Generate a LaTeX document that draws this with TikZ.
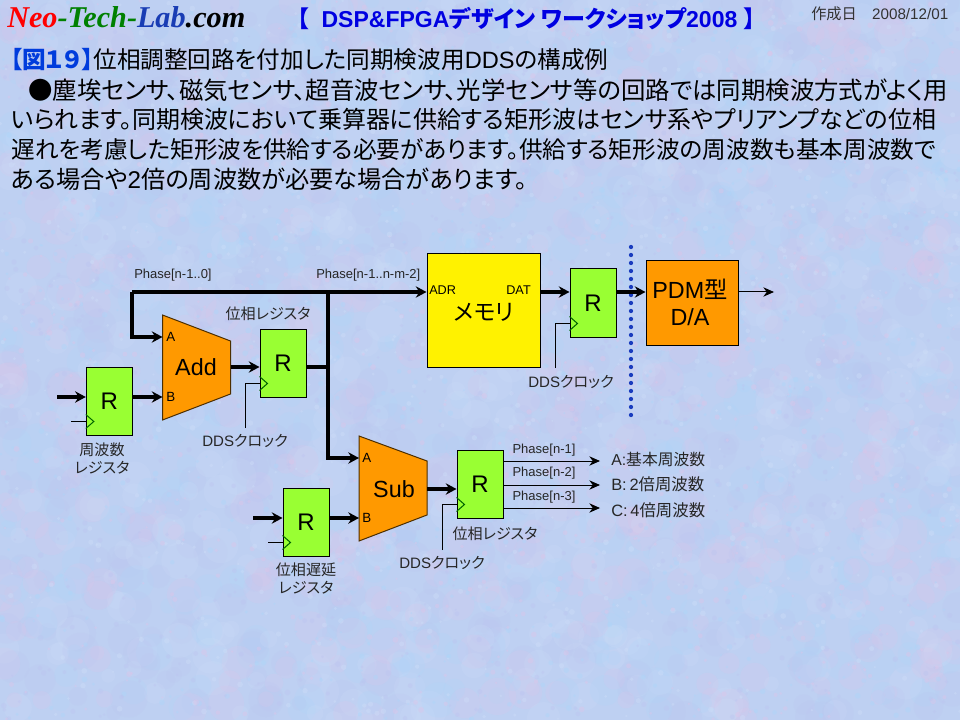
\documentclass[tikz,border=0pt]{standalone}
\usepackage{fontspec}
\usepackage{graphicx}
\usetikzlibrary{arrows.meta}
\setmainfont{Liberation Sans}
\newfontfamily\jp[RawFeature=+palt]{Noto Sans CJK JP}
\newfontfamily\neoserif{Liberation Serif}
\newlength\unitpx \setlength\unitpx{.75pt}
\newcommand\fitw[2]{\resizebox{#1\unitpx}{!}{#2}}
\definecolor{bgbase}{RGB}{190,208,242}
\definecolor{blob0}{RGB}{222,196,232}
\definecolor{blob1}{RGB}{172,214,250}
\definecolor{blob2}{RGB}{188,196,240}
\definecolor{blob3}{RGB}{206,222,248}
\definecolor{orangeblk}{RGB}{255,153,0}
\definecolor{greenreg}{RGB}{153,255,51}
\definecolor{titleblue}{RGB}{0,0,225}
\definecolor{figblue}{RGB}{0,60,220}
\definecolor{dotblue}{RGB}{25,60,190}
\definecolor{clkgreen}{RGB}{0,100,0}
\definecolor{neogreen}{RGB}{0,128,0}
\definecolor{neoblue}{RGB}{25,60,180}
\tikzset{
  x=.75pt,y=-.75pt,
  regbox/.style={draw=black,line width=.75pt,fill=greenreg,minimum width=34.5pt,minimum height=51pt,inner sep=0pt,font=\fontsize{18}{18}\selectfont},
  blockshape/.style={draw=black!70!orangeblk,line width=.75pt,fill=orangeblk},
  bigtxt/.style={inner sep=0pt,font=\fontsize{17.5}{19}\selectfont},
  lbl/.style={inner sep=0pt,font=\fontsize{11.3}{13.5}\selectfont,text=black!85},
  phase/.style={inner sep=0pt,font=\fontsize{9.75}{11}\selectfont,text=black!85},
  port/.style={inner sep=0pt,font=\fontsize{10}{12}\selectfont},
  para/.style={inner sep=0pt,anchor=base west,font=\fontsize{17}{20}\selectfont},
  bus/.style={line width=2.6pt,draw=black},
  busa/.style={bus,-{Stealth[length=8pt,width=8.5pt]}},
  thin line/.style={line width=.75pt,draw=black},
  thina/.style={thin line,-{Stealth[length=8pt,width=7pt]}},
  clk/.style={line width=.75pt,draw=clkgreen},
}
\begin{document}
\begin{tikzpicture}
\useasboundingbox (0,0) rectangle (960,720);
% textured background
\begin{scope}
\clip (0,0) rectangle (960,720);
\fill[bgbase] (0,0) rectangle (960,720);
\pgfmathsetseed{19}
\foreach \i in {1,...,1800}{
  \pgfmathsetmacro\px{rnd*960}
  \pgfmathsetmacro\py{rnd*720}
  \pgfmathsetmacro\rr{5+rnd*9}
  \pgfmathtruncatemacro\kk{int(rnd*4)}
  \fill[blob\kk,opacity=.2] (\px,\py) circle (\rr pt);
}
\foreach \i in {1,...,3000}{
  \pgfmathsetmacro\px{rnd*960}
  \pgfmathsetmacro\py{rnd*720}
  \pgfmathsetmacro\rr{.8+rnd*1.4}
  \pgfmathtruncatemacro\kk{int(rnd*4)}
  \fill[blob\kk,opacity=.4] (\px,\py) circle (\rr pt);
}
\end{scope}

% header
\node[inner sep=0pt,anchor=base west] (neo) at (7,28) {\fitw{238}{\neoserif\fontsize{24}{24}\selectfont\bfseries\itshape\textcolor{red}{Neo}\textcolor{neogreen}{-Tech-}\textcolor{neoblue}{Lab}\textcolor{black}{.com}}};
\node[inner sep=0pt,anchor=base west,text=titleblue] (ttl) at (297,28) {\fitw{458}{\fontsize{15}{15}\selectfont\bfseries{\jp 【}\ \ DSP\&FPGA{\jp デザイン ワークショップ}2008\ {\jp 】}}};
\node[inner sep=0pt,anchor=base west,text=black!80] (date) at (811,20) {\fitw{137}{\fontsize{10}{10}\selectfont{\jp 作成日}\quad 2008/12/01}};

% paragraph
\node[para] (figt) at (10,69) {\fitw{598}{\textcolor{figblue}{\jp\bfseries 【図１９】}{\jp 位相調整回路を付加した同期検波用}DDS{\jp の構成例}}};
\node[para] (p1) at (28,100) {\fitw{920}{\jp ●塵埃センサ、磁気センサ、超音波センサ、光学センサ等の回路では同期検波方式がよく用}};
\node[para] (p2) at (11,129) {\fitw{925}{\jp いられます。同期検波において乗算器に供給する矩形波はセンサ系やプリアンプなどの位相}};
\node[para] (p3) at (11,159) {\fitw{925}{\jp 遅れを考慮した矩形波を供給する必要があります。供給する矩形波の周波数も基本周波数で}};
\node[para] (p4) at (11,189) {\fitw{516}{{\jp ある場合や}2{\jp 倍の周波数が必要な場合があります。}}};

% named junctions
\coordinate (tl) at (132,292);
\coordinate (tj) at (328,292);
\coordinate (j) at (328,367);
\coordinate (addTL) at (162.5,315);
\coordinate (addBL) at (162.5,420);
\coordinate (addTR) at (230.5,341);
\coordinate (addBR) at (230.5,394);
\coordinate (addA) at (162.5,337);
\coordinate (addB) at (162.5,397);
\coordinate (addE) at (230.5,367);
\coordinate (subTL) at (359,436);
\coordinate (subBL) at (359,541);
\coordinate (subTR) at (427,461);
\coordinate (subBR) at (427,515);
\coordinate (subA) at (359,458);
\coordinate (subB) at (359,518);
\coordinate (subE) at (427,489);
\coordinate (row) at (540,292);
\coordinate (outP) at (774,292);
\coordinate (outA) at (600,461);
\coordinate (outB) at (600,485);
\coordinate (outC) at (600,508);
\coordinate (in1) at (57,397);
\coordinate (in4) at (253,518);
\coordinate (ck1in) at (71,421);
\coordinate (ck4in) at (268,542);
\coordinate (s2) at (245,428);
\coordinate (s3) at (555,368);
\coordinate (s5) at (442,550);
\coordinate (dotA) at (631,247);
\coordinate (dotB) at (631,415);

% blocks
\node[regbox] (r1) at (109.3,401) {R};
\node[regbox] (r2) at (283,363) {R};
\node[regbox] (r3) at (593,303) {R};
\node[regbox] (r4) at (306,522) {R};
\node[regbox] (r5) at (480,484) {R};
\draw[blockshape] (addTL) -- (addTR) -- (addBR) -- (addBL) -- cycle;
\draw[blockshape] (subTL) -- (subTR) -- (subBR) -- (subBL) -- cycle;
\node[bigtxt] (addL) at (196,367) {Add};
\node[bigtxt] (subL) at (394,489) {Sub};
\node[port,anchor=west] (aA) at (166,337) {A};
\node[port,anchor=west] (aB) at (166,397) {B};
\node[port,anchor=west] (sA) at (362,458) {A};
\node[port,anchor=west] (sB) at (362,518) {B};
\node[draw=black,line width=.75pt,fill=yellow,minimum width=84.75pt,minimum height=84.75pt,inner sep=0pt] (mem) at (483.5,310.5) {};
\node[inner sep=0pt,font=\fontsize{17}{17}\selectfont] (memL) at (484,312) {\jp メモリ};
\node[port,anchor=west,font=\fontsize{9.5}{11}\selectfont] (adr) at (429,290) {ADR};
\node[port,anchor=east,font=\fontsize{9.5}{11}\selectfont] (dat) at (531,290) {DAT};
\node[draw=black,line width=.75pt,fill=orangeblk,minimum width=69pt,minimum height=63pt,inner sep=0pt] (pdm) at (692,303) {};
\node[inner sep=0pt,font=\fontsize{17.5}{19}\selectfont] (pdmA) at (690,289) {PDM{\jp 型}};
\node[inner sep=0pt,font=\fontsize{17.5}{19}\selectfont] (pdmB) at (690,317) {D/A};

% dotted divider
\draw[dotblue,line width=3.2pt,line cap=round,dash pattern=on 0pt off 6pt] (dotA) -- (dotB);

% clock triangles and stubs
\foreach \n in {r1,r2,r3,r4,r5}{
  \coordinate (\n ck) at ([yshift=10.5pt]\n.south west);
  \draw[clk] ([yshift=5.25pt]\n.south west) -- ([xshift=6pt]\n ck) -- ([yshift=15.75pt]\n.south west);
}
\draw[thin line] (ck1in) -- (ck1in -| r1.west);
\draw[thin line] (ck4in) -- (ck4in -| r4.west);
\draw[thin line] (s2) |- (r2ck);
\draw[thin line] (s3) |- (r3ck);
\draw[thin line] (s5) |- (r5ck);

% thick connectors
\draw[busa] (in1) -- (in1 -| r1.west);
\draw[busa] (r1.east |- addB) -- (addB);
\draw[busa] (addE) -- (addE -| r2.west);
\draw[bus] (r2.east |- j) -- (j);
\draw[bus] (tl) -- (tj);
\draw[busa,line join=miter] (tl) |- (addA);
\draw[busa] (tj) -- (tj -| mem.west);
\draw[busa,line join=miter] (tj) |- (subA);
\draw[busa] (in4) -- (in4 -| r4.west);
\draw[busa] (r4.east |- subB) -- (subB);
\draw[busa] (subE) -- (subE -| r5.west);
\draw[busa] (row) -- (r3.west |- row);
\draw[busa] (r3.east |- row) -- (pdm.west |- row);
\draw[thina] (pdm.east |- row) -- (outP);
\draw[thina] (r5.east |- outA) -- (outA);
\draw[thina] (r5.east |- outB) -- (outB);
\draw[thina] (r5.east |- outC) -- (outC);

% labels
\node[phase,anchor=west] (ph0) at (134,275) {Phase[n-1..0]};
\node[phase,anchor=west] (ph1) at (316,275) {Phase[n-1..n-m-2]};
\node[lbl] (reg2) at (268,314) {\jp 位相レジスタ};
\node[lbl] (dds2) at (245,441) {DDS{\jp クロック}};
\node[lbl,align=center] (reg1) at (102,458) {\jp 周波数\\\jp レジスタ};
\node[lbl] (dds3) at (571,382) {DDS{\jp クロック}};
\node[lbl] (dds5) at (442,563) {DDS{\jp クロック}};
\node[lbl] (reg5) at (495,534) {\jp 位相レジスタ};
\node[lbl,align=center] (reg4) at (306,578) {\jp 位相遅延\\\jp レジスタ};
\node[phase] (pa) at (544,450) {Phase[n-1]};
\node[phase] (pb) at (544,473) {Phase[n-2]};
\node[phase] (pc) at (544,497) {Phase[n-3]};
\node[lbl,anchor=west] (ta) at (611,460) {\fitw{94}{A:{\jp 基本周波数}}};
\node[lbl,anchor=west] (tb) at (611,484) {\fitw{93}{B:\,2{\jp 倍周波数}}};
\node[lbl,anchor=west] (tc) at (611,510) {\fitw{94}{C:\,4{\jp 倍周波数}}};
\end{tikzpicture}
\end{document}
